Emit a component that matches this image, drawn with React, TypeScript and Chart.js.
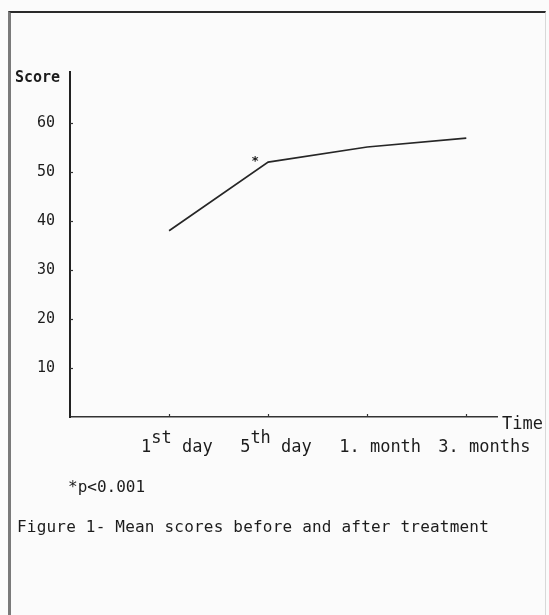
import React, { useEffect, useRef } from "react";
import { Chart, registerables } from "chart.js";

Chart.register(...registerables);

// ---- data ----
const categories = ["1st day", "5th day", "1. month", "3. months"];
const positions = [1, 2, 3, 4];
const scores = [38, 52, 55.1, 56.9];
const yTicks = [10, 20, 30, 40, 50, 60];
const significantIndex = 1;
const yAxisLabel = "Score";
const xAxisLabel = "Time";
const footnote = "*p<0.001";
const caption = "Figure 1- Mean scores before and after treatment";

const MONO = '"DejaVu Sans Mono", "Liberation Mono", monospace';
const INK = "#1c1c1c";

function splitLabel(label: string): { t: string; sup: boolean }[] {
  const m = label.match(/^(\d+)(st|nd|rd|th)(.*)$/);
  if (!m) return [{ t: label, sup: false }];
  return [
    { t: m[1], sup: false },
    { t: m[2], sup: true },
    { t: m[3], sup: false },
  ];
}

const annotations = {
  id: "figAnnotations",
  afterDraw(chart: any) {
    const ctx = chart.ctx as CanvasRenderingContext2D;
    const xs = chart.scales.x;
    const ys = chart.scales.y;
    ctx.save();
    ctx.strokeStyle = "#333";
    ctx.lineWidth = 1.2;
    // y tick marks (inside)
    yTicks.forEach((v) => {
      const py = Math.round(ys.getPixelForValue(v)) + 0.5;
      ctx.beginPath();
      ctx.moveTo(xs.left, py);
      ctx.lineTo(xs.left + 3, py);
      ctx.stroke();
    });
    // x tick marks
    positions.forEach((p) => {
      const px = Math.round(xs.getPixelForValue(p)) + 0.5;
      ctx.beginPath();
      ctx.moveTo(px, ys.bottom);
      ctx.lineTo(px, ys.bottom - 3);
      ctx.stroke();
    });
    // x category labels with superscripts (typed starting a little left of each tick)
    ctx.fillStyle = INK;
    ctx.textBaseline = "alphabetic";
    ctx.textAlign = "left";
    ctx.font = `17px ${MONO}`;
    categories.forEach((c, i) => {
      const parts = splitLabel(c);
      let x = xs.getPixelForValue(positions[i]) - 28;
      const base = ys.bottom + 35;
      parts.forEach((p) => {
        ctx.fillText(p.t, x, p.sup ? base - 9 : base);
        x += ctx.measureText(p.t).width;
      });
    });
    // axis names
    ctx.fillText(xAxisLabel, xs.right + 5, ys.bottom + 12);
    ctx.font = `bold 15px ${MONO}`;
    ctx.fillText(yAxisLabel, 15, ys.top + 10);
    // significance star
    const sx = xs.getPixelForValue(positions[significantIndex]);
    const sy = ys.getPixelForValue(scores[significantIndex]);
    ctx.font = `bold 13px ${MONO}`;
    ctx.textAlign = "center";
    ctx.fillText("*", sx - 13, sy + 3);
    ctx.restore();
  },
};

export default function App() {
  const ref = useRef<HTMLCanvasElement | null>(null);

  useEffect(() => {
    document.body.style.margin = "0";
    const canvas = ref.current;
    if (!canvas) return;
    const chart = new Chart(canvas, {
      type: "line",
      data: {
        datasets: [
          {
            data: positions.map((x, i) => ({ x, y: scores[i] })),
            borderColor: "#262626",
            borderWidth: 1.7,
            pointRadius: 0,
            tension: 0,
            fill: false,
          },
        ],
      },
      options: {
        responsive: false,
        animation: false,
        devicePixelRatio: 1,
        layout: { padding: { top: 72, right: 52, left: 0, bottom: 0 } },
        plugins: { legend: { display: false }, tooltip: { enabled: false } },
        scales: {
          x: {
            type: "linear",
            min: 0,
            max: 4.31,
            ticks: { display: false },
            grid: { display: false },
            border: { color: "#333", width: 1.5 },
            afterFit: (s: any) => {
              s.height = 615 - 417;
            },
          },
          y: {
            min: 0,
            max: 70.4,
            grid: { display: false },
            border: { color: "#222", width: 2 },
            ticks: {
              color: INK,
              padding: 7,
              font: { family: MONO, size: 15 },
            },
            afterBuildTicks: (s: any) => {
              s.ticks = yTicks.map((v) => ({ value: v }));
            },
            afterFit: (s: any) => {
              s.width = 70;
            },
          },
        },
      },
      plugins: [annotations],
    } as any);
    return () => chart.destroy();
  }, []);

  return (
    <div
      style={{
        position: "relative",
        width: 549,
        height: 615,
        overflow: "hidden",
        background: "#fbfbfb",
      }}
    >
      <div
        style={{
          position: "absolute",
          left: 8,
          top: 11,
          width: 538,
          height: 700,
          boxSizing: "border-box",
          borderTop: "2px solid #2a2a2a",
          borderLeft: "3px solid #7a7a7a",
          borderRight: "1px solid #d8d8d8",
        }}
      />
      <canvas
        ref={ref}
        width={549}
        height={615}
        style={{ position: "absolute", left: 0, top: 0, width: 549, height: 615 }}
      />
      <div
        style={{
          position: "absolute",
          left: 68,
          top: 479,
          font: `16px/16px ${MONO}`,
          color: INK,
          whiteSpace: "nowrap",
        }}
      >
        {footnote}
      </div>
      <div
        style={{
          position: "absolute",
          left: 17,
          top: 519,
          font: `16px/16px ${MONO}`,
          letterSpacing: "0.2px",
          color: INK,
          whiteSpace: "nowrap",
        }}
      >
        {caption}
      </div>
    </div>
  );
}
